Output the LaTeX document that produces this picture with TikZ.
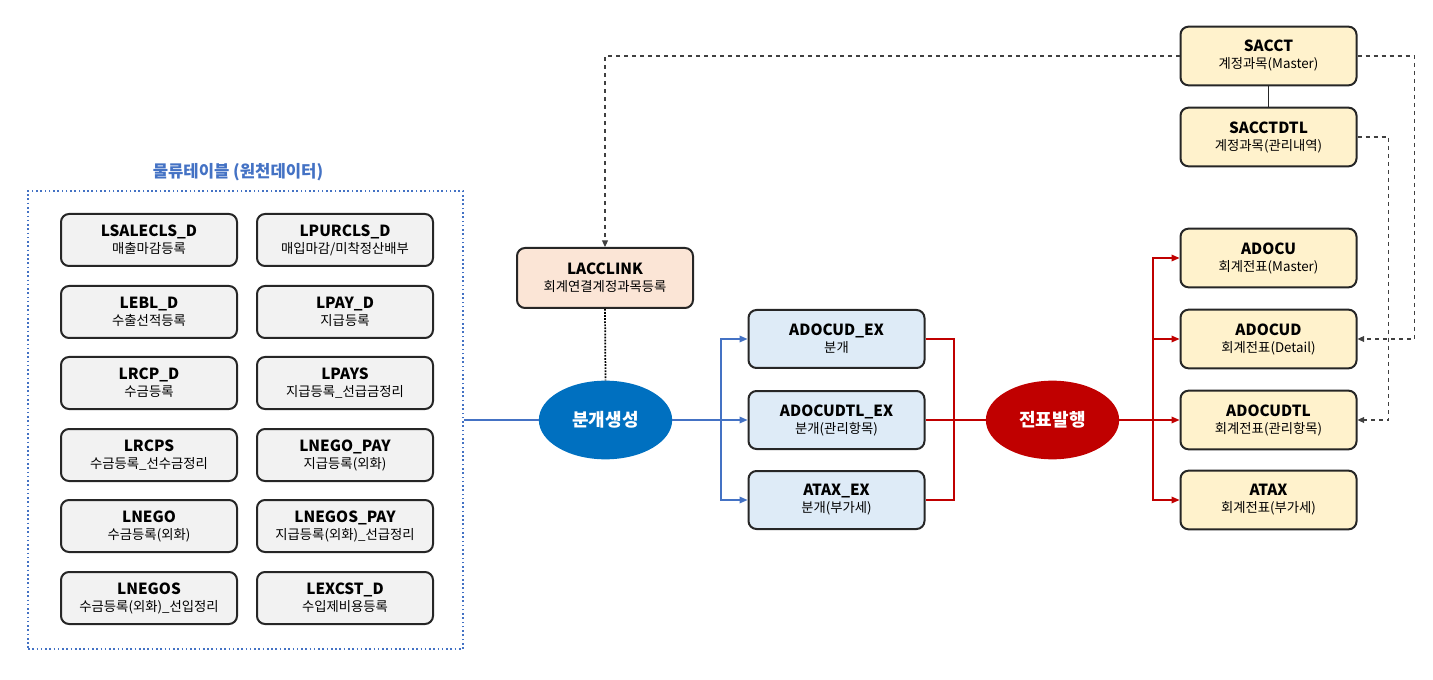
\documentclass[tikz,border=0pt]{standalone}
\usepackage{fontspec}
\setmainfont{Noto Sans CJK KR}
\usetikzlibrary{shapes.geometric,arrows.meta}
\definecolor{srcblue}{HTML}{4472C4}
\definecolor{boxline}{HTML}{262626}
\definecolor{srcgray}{HTML}{F2F2F2}
\definecolor{linkpeach}{HTML}{FBE5D6}
\definecolor{splitblue}{HTML}{DEEBF7}
\definecolor{docyellow}{HTML}{FFF2CC}
\definecolor{genblue}{HTML}{0070C0}
\definecolor{pubred}{HTML}{C00000}
\definecolor{refgray}{HTML}{404040}
\newcommand{\tbltext}[2]{{\fontsize{11.5}{12.75}\selectfont\bfseries #1}\\{\fontsize{10}{12.75}\selectfont #2}}

\begin{document}
\begin{tikzpicture}[x=0.75pt, y=-0.75pt,
    tbl/.style={draw=boxline, line width=1.5pt, rounded corners=6pt, align=center,
      inner sep=0pt, minimum width=132pt, font=\fontsize{10}{12.75}\selectfont},
    srcbox/.style={tbl, fill=srcgray, minimum height=39pt},
    linkbox/.style={tbl, fill=linkpeach, minimum height=45pt},
    splitbox/.style={tbl, fill=splitblue, minimum height=43.5pt},
    docbox/.style={tbl, fill=docyellow, minimum height=44pt},
    procell/.style={ellipse, text=white, inner sep=0pt, minimum width=100pt,
      minimum height=59pt, font=\fontsize{13.5}{15}\selectfont\bfseries},
    bline/.style={srcblue, line width=0.9pt},
    rline/.style={pubred, line width=0.9pt},
    tip/.style={-{Triangle[length=6pt, width=5pt]}},
    dline/.style={refgray, line width=0.8pt, dashed, -{Triangle[length=5pt, width=4.5pt]}}]
  \useasboundingbox (0,0) rectangle (1433,680);

  % source tables
  \node[draw=srcblue, line width=1.2pt, dotted, minimum width=326.25pt,
    minimum height=343.5pt] (src) at (245.5,420) {};
  \node[text=srcblue, font=\fontsize{12.5}{14}\selectfont\bfseries] (srctitle) at (238,172)
    {물류테이블 (원천데이터)};
  \node[srcbox] (l11) at (149,240) {\tbltext{LSALECLS\_D}{매출마감등록}};
  \node[srcbox] (l12) at (345,240) {\tbltext{LPURCLS\_D}{매입마감/미착정산배부}};
  \node[srcbox] (l21) at (149,312) {\tbltext{LEBL\_D}{수출선적등록}};
  \node[srcbox] (l22) at (345,312) {\tbltext{LPAY\_D}{지급등록}};
  \node[srcbox] (l31) at (149,383) {\tbltext{LRCP\_D}{수금등록}};
  \node[srcbox] (l32) at (345,383) {\tbltext{LPAYS}{지급등록\_선급금정리}};
  \node[srcbox] (l41) at (149,455) {\tbltext{LRCPS}{수금등록\_선수금정리}};
  \node[srcbox] (l42) at (345,455) {\tbltext{LNEGO\_PAY}{지급등록(외화)}};
  \node[srcbox] (l51) at (149,526) {\tbltext{LNEGO}{수금등록(외화)}};
  \node[srcbox] (l52) at (345,526) {\tbltext{LNEGOS\_PAY}{지급등록(외화)\_선급정리}};
  \node[srcbox] (l61) at (149,598) {\tbltext{LNEGOS}{수금등록(외화)\_선입정리}};
  \node[srcbox] (l62) at (345,598) {\tbltext{LEXCST\_D}{수입제비용등록}};

  % split generation
  \node[linkbox] (lacc) at (605,278) {\tbltext{LACCLINK}{회계연결계정과목등록}};
  \node[procell, fill=genblue] (gen) at (605.5,420) {분개생성};
  \node[splitbox] (ex1) at (836.5,339) {\tbltext{ADOCUD\_EX}{분개}};
  \node[splitbox] (ex2) at (836.5,420) {\tbltext{ADOCUDTL\_EX}{분개(관리항목)}};
  \node[splitbox] (ex3) at (836.5,500) {\tbltext{ATAX\_EX}{분개(부가세)}};

  % slip issue
  \node[procell, fill=pubred] (pub) at (1052.5,420) {전표발행};
  \node[docbox] (sacct) at (1268.5,56) {\tbltext{SACCT}{계정과목(Master)}};
  \node[docbox] (sacctdtl) at (1268.5,137) {\tbltext{SACCTDTL}{계정과목(관리내역)}};
  \node[docbox] (doc1) at (1268.5,258) {\tbltext{ADOCU}{회계전표(Master)}};
  \node[docbox] (doc2) at (1268.5,339) {\tbltext{ADOCUD}{회계전표(Detail)}};
  \node[docbox] (doc3) at (1268.5,420) {\tbltext{ADOCUDTL}{회계전표(관리항목)}};
  \node[docbox] (doc4) at (1268.5,500) {\tbltext{ATAX}{회계전표(부가세)}};

  \coordinate (bsplit) at (721,420);
  \coordinate (rjoin) at (954,420);
  \coordinate (rsplit) at (1153,420);

  \draw[bline] (src.east) -- (gen.west);
  \draw[bline, tip] (gen.east) -- (ex2.west);
  \draw[bline, tip] (bsplit) |- (ex1.west);
  \draw[bline, tip] (bsplit) |- (ex3.west);
  \draw[line width=1.3pt, densely dotted] (lacc.south) -- (gen.north);

  \draw[rline] (ex1.east) -| (rjoin) |- (ex3.east);
  \draw[rline] (ex2.east) -- (pub.west);
  \draw[rline, tip] (pub.east) -- (doc3.west);
  \draw[rline, tip] (rsplit) |- (doc1.west);
  \draw[rline, tip] (rsplit) |- (doc2.west);
  \draw[rline, tip] (rsplit) |- (doc4.west);

  \draw[boxline, line width=0.8pt] (sacct.south) -- (sacctdtl.north);
  \draw[dline] (sacct.west) -| (lacc.north);
  \draw[dline] (sacct.east) -- ++(57,0) |- (doc2.east);
  \draw[dline] (sacctdtl.east) -- ++(31,0) |- (doc3.east);
\end{tikzpicture}
\end{document}
